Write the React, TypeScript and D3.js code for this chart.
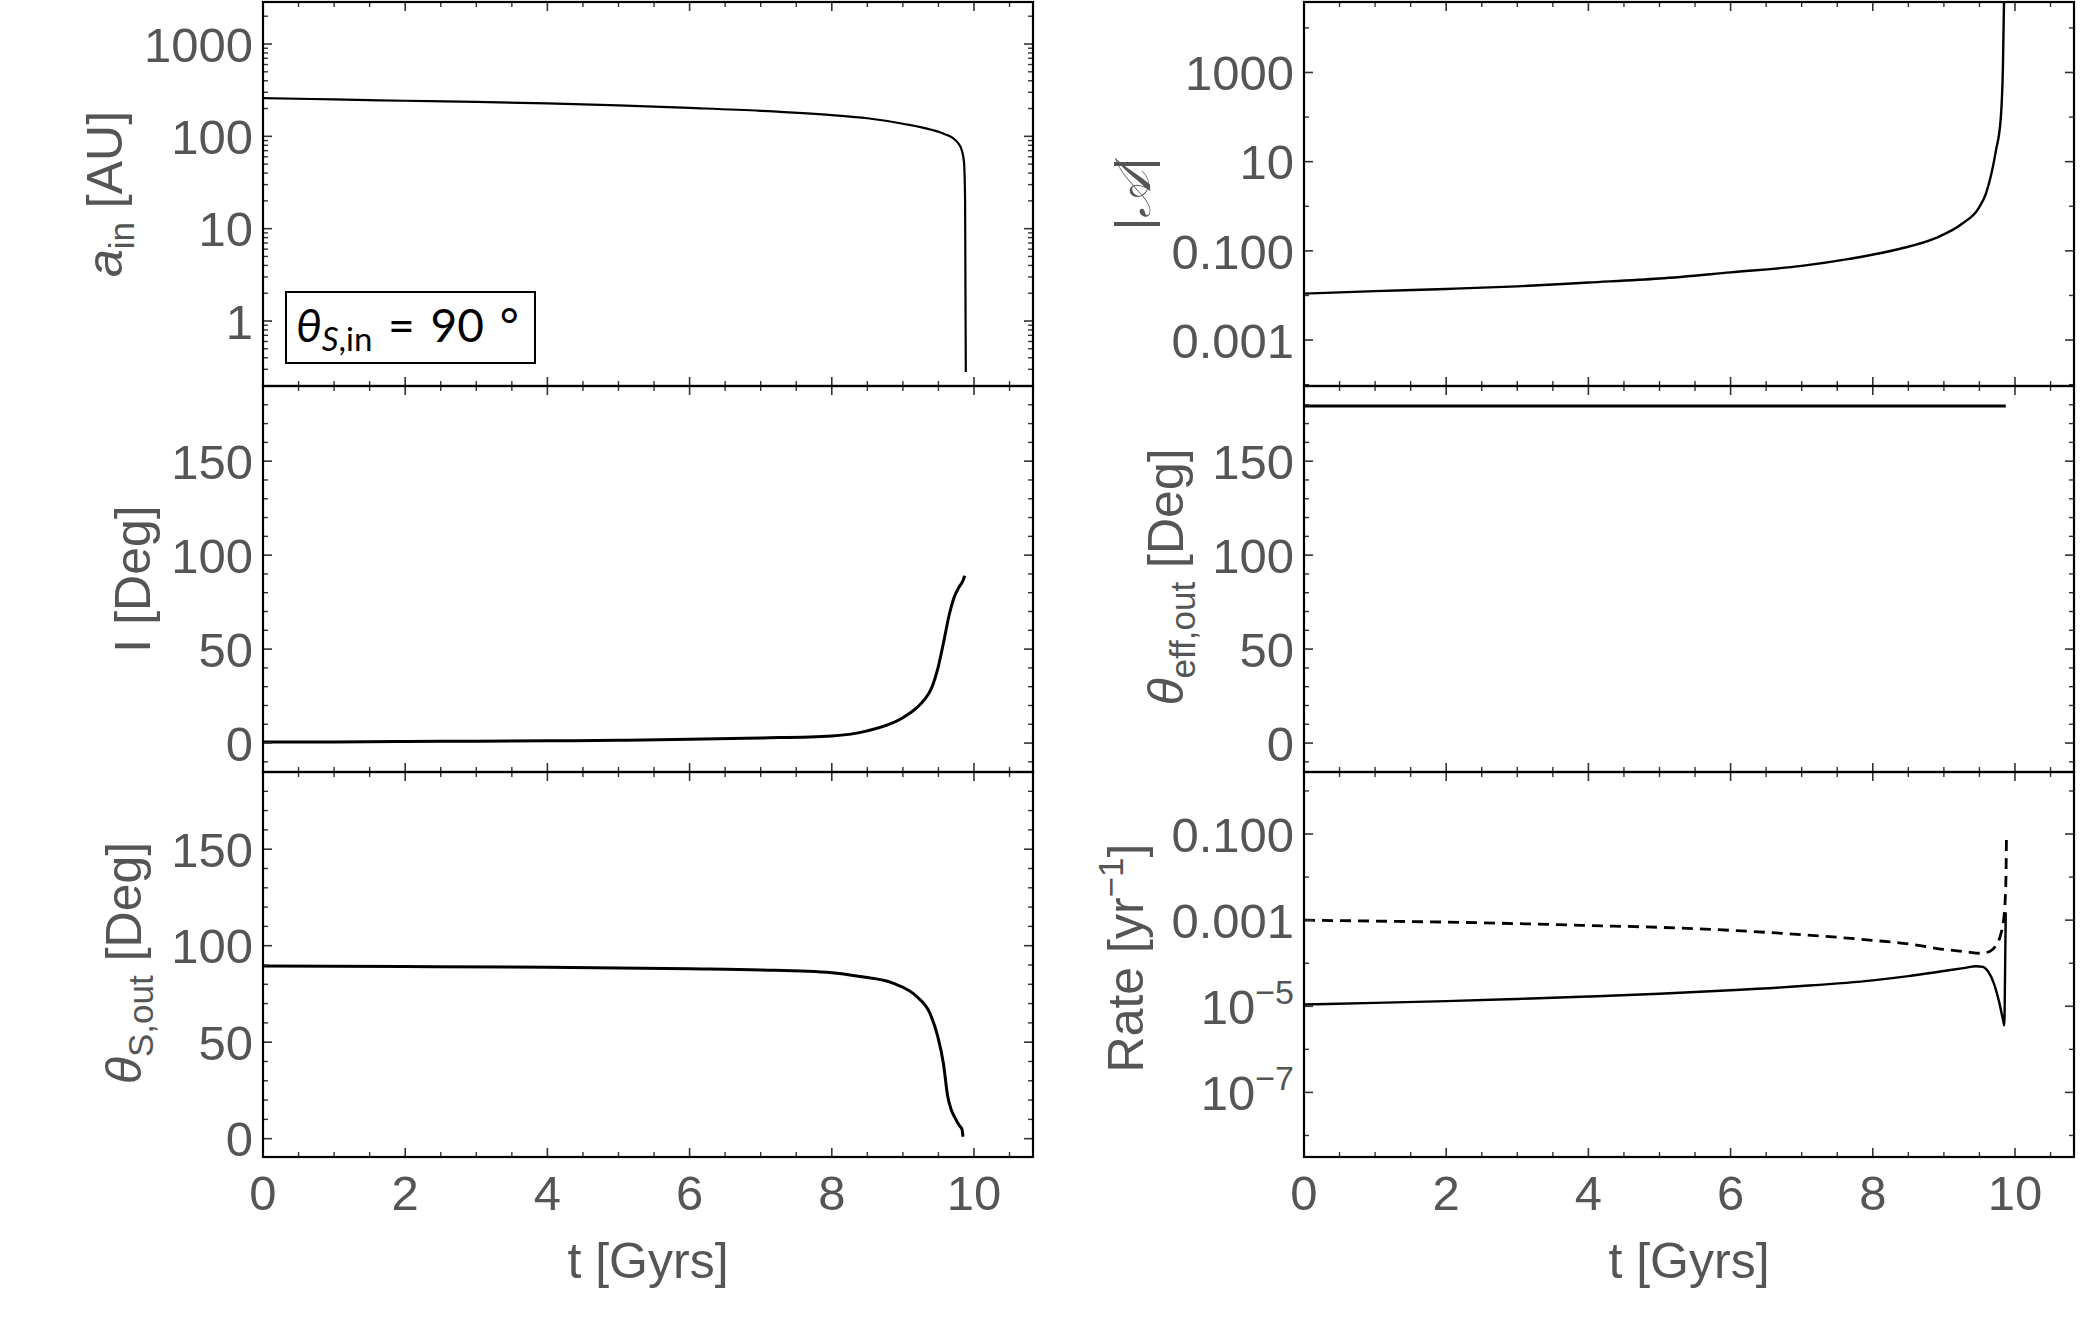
import React from 'react';
import * as d3 from 'd3';

const W = 2084;
const H = 1344;
const FONT = '"Liberation Sans", Arial, sans-serif';
const GREY = '#555';

// time axis
const T_DOMAIN: [number, number] = [0, 10.83];
const T_TICKS = [0, 2, 4, 6, 8, 10];
const T_MINOR = [0.5, 1, 1.5, 2.5, 3, 3.5, 4.5, 5, 5.5, 6.5, 7, 7.5, 8.5, 9, 9.5, 10.5];

// a_in [AU]
const T_AIN = [0, 1, 2, 3, 4, 5, 6, 7, 8, 8.5, 9, 9.4, 9.6, 9.7, 9.78, 9.83, 9.86, 9.875, 9.88, 9.885];
const AIN = [260, 251, 243, 236, 227, 216, 203, 189, 170, 157, 137, 118, 105, 96, 84, 70, 52, 20, 2, 0.28];

// I [Deg]
const T_INC = [0, 1, 2, 3, 4, 5, 6, 7, 8, 8.5, 9, 9.2, 9.3, 9.4, 9.5, 9.58, 9.65, 9.72, 9.79, 9.84, 9.87];
const INC = [0.5, 0.6, 0.8, 1, 1.2, 1.5, 2, 2.7, 3.8, 6.5, 13.5, 19, 23, 29, 41, 55, 68, 77.5, 83, 86, 89];

// theta_S,out [Deg]
const T_TSO = [0, 2, 4, 6, 7, 8, 8.4, 8.86, 9.2, 9.38, 9.49, 9.57, 9.63, 9.68, 9.73, 9.79, 9.83, 9.845];
const TSO = [89.5, 89.2, 88.8, 88, 87.4, 86, 84, 80.6, 73.5, 65, 53, 39, 22, 15, 11, 7, 5, 1];

// |A|
const T_AMP = [0, 1, 2, 3, 4, 5, 6, 7, 7.67, 8.37, 8.89, 9.26, 9.49, 9.59, 9.73, 9.8, 9.83, 9.85];
const AMP = [0.011, 0.0125, 0.014, 0.016, 0.0195, 0.024, 0.033, 0.046, 0.066, 0.11, 0.195, 0.41, 0.91, 1.9, 17, 95, 1260, 1e5];

// theta_eff,out [Deg]
const T_TEF = [0, 2, 4, 6, 8, 9, 9.5, 9.87];
const TEF = [179.4, 179.4, 179.4, 179.4, 179.4, 179.4, 179.4, 179.4];

// Rate [yr^-1]
const T_RATE1 = [0, 1, 2, 3, 4, 5, 6, 7, 8, 8.5, 9, 9.3, 9.45, 9.55, 9.62, 9.7, 9.78, 9.83, 9.85, 9.86, 9.87];
const RATE1 = [1.1e-5, 1.2e-5, 1.32e-5, 1.48e-5, 1.68e-5, 1.95e-5, 2.35e-5, 2.95e-5, 4e-5, 5e-5, 6.6e-5, 7.8e-5, 8.5e-5, 8.2e-5, 6.5e-5, 3.5e-5, 1.2e-5, 5e-6, 3.6e-6, 5e-5, 1.5e-3];
const T_RATE2 = [0, 1, 2, 3, 4, 5, 6, 7, 8, 8.5, 9, 9.3, 9.52, 9.65, 9.72, 9.8, 9.84, 9.86, 9.875, 9.88];
const RATE2 = [1e-3, 9.5e-4, 9e-4, 8.3e-4, 7.5e-4, 6.8e-4, 5.8e-4, 4.6e-4, 3.4e-4, 2.8e-4, 2.1e-4, 1.85e-4, 1.7e-4, 1.9e-4, 2.4e-4, 4.7e-4, 1e-3, 2.5e-3, 1.5e-2, 0.1];

// tick labels
const AIN_TICKS = [1, 10, 100, 1000];
const DEG_TICKS = [0, 50, 100, 150];
const DEG_MINOR = [-10, 10, 20, 30, 40, 60, 70, 80, 90, 110, 120, 130, 140, 160, 170, 180];
const AMP_TICKS = [0.001, 0.1, 10, 1000];
const AMP_LABELS = ['0.001', '0.100', '10', '1000'];
const AMP_MINOR = [1e-4, 0.01, 1, 100, 1e4];
const RATE_TICKS = [0.1, 0.001, 1e-5, 1e-7];
const RATE_MINOR = [1, 0.01, 1e-4, 1e-6, 1e-8];

// layout
const COLS = [263, 1304];
const PW = 770;
const ROWS: [number, number][] = [[2, 386], [386, 772], [772, 1157]];

type Series = { t: number[]; v: number[]; dash?: string; width?: number };
type Major = { v: number; label: React.ReactNode };

interface PanelProps {
  id: string;
  col: number;
  row: number;
  y: (v: number) => number;
  major: Major[];
  minor: number[];
  series: Series[];
  label: React.ReactNode;
  labelX: number;
  labelY: number;
}

const Panel: React.FC<PanelProps> = ({ id, col, row, y, major, minor, series, label, labelX, labelY }) => {
  const x0 = COLS[col];
  const x1 = x0 + PW;
  const [top, bottom] = ROWS[row];
  const x = d3.scaleLinear().domain(T_DOMAIN).range([x0, x1]);

  const path = (s: Series) =>
    d3.line<number>()
      .x(i => x(s.t[i]))
      .y(i => y(s.v[i]))
      .curve(d3.curveMonotoneX)(d3.range(s.t.length)) || '';

  const inside = (py: number) => py > top + 1 && py < bottom - 1;

  return (
    <g>
      <defs>
        <clipPath id={`clip-${id}`}>
          <rect x={x0} y={top} width={PW} height={bottom - top} />
        </clipPath>
      </defs>
      <g clipPath={`url(#clip-${id})`}>
        {series.map((s, i) => (
          <path key={i} d={path(s)} fill="none" stroke="#000" strokeWidth={s.width ?? 2.6}
            strokeDasharray={s.dash} strokeLinejoin="round" />
        ))}
      </g>

      {/* x ticks, top and bottom, pointing inward */}
      {T_TICKS.map(t => (
        <g key={`xt${t}`} stroke="#333" strokeWidth={1.6}>
          <line x1={x(t)} x2={x(t)} y1={bottom} y2={bottom - 9} />
          <line x1={x(t)} x2={x(t)} y1={top} y2={top + 9} />
        </g>
      ))}
      {T_MINOR.map(t => (
        <g key={`xm${t}`} stroke="#333" strokeWidth={1.4}>
          <line x1={x(t)} x2={x(t)} y1={bottom} y2={bottom - 5} />
          <line x1={x(t)} x2={x(t)} y1={top} y2={top + 5} />
        </g>
      ))}

      {/* y ticks, left and right */}
      {major.filter(m => inside(y(m.v))).map(m => (
        <g key={`ym${m.v}`} stroke="#333" strokeWidth={1.6}>
          <line x1={x0} x2={x0 + 9} y1={y(m.v)} y2={y(m.v)} />
          <line x1={x1} x2={x1 - 9} y1={y(m.v)} y2={y(m.v)} />
        </g>
      ))}
      {minor.filter(v => inside(y(v))).map(v => (
        <g key={`yn${v}`} stroke="#333" strokeWidth={1.4}>
          <line x1={x0} x2={x0 + 5} y1={y(v)} y2={y(v)} />
          <line x1={x1} x2={x1 - 5} y1={y(v)} y2={y(v)} />
        </g>
      ))}

      <rect x={x0} y={top} width={PW} height={bottom - top} fill="none" stroke="#000" strokeWidth={2.2} />

      {major.map(m => (
        <text key={`yl${m.v}`} x={x0 - 10} y={y(m.v)} dy="0.36em" textAnchor="end"
          fontFamily={FONT} fontSize={49} fill={GREY}>{m.label}</text>
      ))}

      <text transform={`translate(${labelX},${labelY}) rotate(-90)`} textAnchor="middle"
        fontFamily={FONT} fontSize={50} fill={GREY}>{label}</text>

      {row === 2 && (
        <g>
          {T_TICKS.map(t => (
            <text key={`xl${t}`} x={x(t)} y={1210} textAnchor="middle"
              fontFamily={FONT} fontSize={49} fill={GREY}>{t}</text>
          ))}
          <text x={(x0 + x1) / 2} y={1278} textAnchor="middle"
            fontFamily={FONT} fontSize={50} fill={GREY}>t [Gyrs]</text>
        </g>
      )}
    </g>
  );
};

const App: React.FC = () => {
  const yAin = d3.scaleLog().domain([10 ** -0.704, 10 ** 3.455]).range([ROWS[0][1], ROWS[0][0]]);
  const yInc = d3.scaleLinear().domain([-15.4, 190]).range([ROWS[1][1], ROWS[1][0]]);
  const yTso = d3.scaleLinear().domain([-9.5, 190]).range([ROWS[2][1], ROWS[2][0]]);
  const yAmp = d3.scaleLog().domain([10 ** -4.03, 10 ** 4.58]).range([ROWS[0][1], ROWS[0][0]]);
  const yTef = d3.scaleLinear().domain([-15.4, 190]).range([ROWS[1][1], ROWS[1][0]]);
  const yRate = d3.scaleLog().domain([10 ** -8.5, 10 ** 0.44]).range([ROWS[2][1], ROWS[2][0]]);

  const ainMinor = yAin.ticks().filter(v => !AIN_TICKS.includes(v));
  const deg = DEG_TICKS.map(v => ({ v, label: String(v) }));
  const sub = (s: string, italic = false) => (
    <tspan fontSize={35} dy={12} fontStyle={italic ? 'italic' : 'normal'}>{s}</tspan>
  );

  return (
    <svg width={W} height={H} style={{ position: 'absolute', left: 0, top: 0, background: '#fff' }}>
      <rect width={W} height={H} fill="#fff" />

      <Panel id="ain" col={0} row={0} y={yAin}
        major={AIN_TICKS.map(v => ({ v, label: String(v) }))} minor={ainMinor}
        series={[{ t: T_AIN, v: AIN, width: 2.2 }]}
        labelX={122} labelY={194}
        label={<><tspan fontStyle="italic">a</tspan>{sub('in')}<tspan dy={-12}> [AU]</tspan></>} />

      <Panel id="inc" col={0} row={1} y={yInc} major={deg} minor={DEG_MINOR}
        series={[{ t: T_INC, v: INC, width: 3 }]}
        labelX={150} labelY={579} label="I [Deg]" />

      <Panel id="tso" col={0} row={2} y={yTso} major={deg} minor={DEG_MINOR}
        series={[{ t: T_TSO, v: TSO, width: 3 }]}
        labelX={141} labelY={963}
        label={<><tspan fontStyle="italic">θ</tspan>{sub('S,out')}<tspan dy={-12}> [Deg]</tspan></>} />

      <Panel id="amp" col={1} row={0} y={yAmp}
        major={AMP_TICKS.map((v, i) => ({ v, label: AMP_LABELS[i] }))} minor={AMP_MINOR}
        series={[{ t: T_AMP, v: AMP, width: 2.4 }]}
        labelX={1150} labelY={194}
        label={<>|<tspan fontFamily='"DejaVu Serif", serif' fontStyle="italic">𝒜</tspan>|</>} />

      <Panel id="tef" col={1} row={1} y={yTef} major={deg} minor={DEG_MINOR}
        series={[{ t: T_TEF, v: TEF, width: 3 }]}
        labelX={1183} labelY={577}
        label={<><tspan fontStyle="italic">θ</tspan>{sub('eff,out')}<tspan dy={-12}> [Deg]</tspan></>} />

      <Panel id="rate" col={1} row={2} y={yRate}
        major={[
          { v: RATE_TICKS[0], label: '0.100' },
          { v: RATE_TICKS[1], label: '0.001' },
          { v: RATE_TICKS[2], label: <>10<tspan fontSize={34} dy={-20}>−5</tspan></> },
          { v: RATE_TICKS[3], label: <>10<tspan fontSize={34} dy={-20}>−7</tspan></> },
        ]}
        minor={RATE_MINOR}
        series={[
          { t: T_RATE1, v: RATE1, width: 2.4 },
          { t: T_RATE2, v: RATE2, width: 2.8, dash: '11,7' },
        ]}
        labelX={1143} labelY={958}
        label={<>Rate [yr<tspan fontSize={35} dy={-20}>−1</tspan><tspan dy={20}>]</tspan></>} />

      {/* annotation box */}
      <rect x={286} y={292} width={249} height={71} fill="#fff" stroke="#000" strokeWidth={2} />
      <text x={296} y={342} fontFamily="Lato, 'Open Sans', sans-serif" fontSize={46} fill="#000"
        wordSpacing={4}>
        <tspan fontStyle="italic">θ</tspan>
        <tspan fontSize={33} dy={9} fontStyle="italic">S</tspan>
        <tspan fontSize={33}>,in</tspan>
        <tspan dy={-9}> = 90 °</tspan>
      </text>
    </svg>
  );
};

export default App;
